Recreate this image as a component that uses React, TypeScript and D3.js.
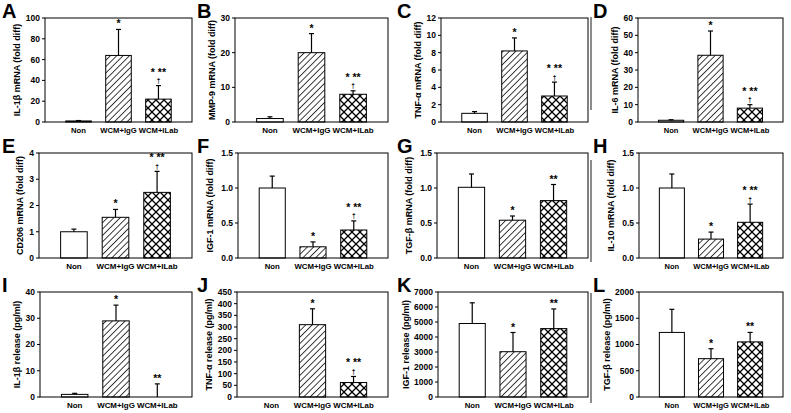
import React from 'react';
import * as d3 from 'd3';

const categories = ['Non', 'WCM+IgG', 'WCM+ILab'];
const letters = ['A', 'B', 'C', 'D', 'E', 'F', 'G', 'H', 'I', 'J', 'K', 'L'];
const yTitles = [
  'IL-1β mRNA (fold diff)', 'MMP-9 mRNA (fold diff)', 'TNF-α mRNA (fold diff)', 'IL-6 mRNA (fold diff)',
  'CD206 mRNA (fold diff)', 'IGF-1 mRNA (fold diff)', 'TGF-β mRNA (fold diff)', 'IL-10 mRNA (fold diff)',
  'IL-1β release (pg/ml)', 'TNF-α release (pg/ml)', 'IGF-1 release (pg/ml)', 'TGF-β release (pg/ml)',
];
const yMax = [100, 30, 12, 60, 4, 1.5, 1.5, 1.5, 40, 450, 7000, 2000];
const yStep = [20, 10, 2, 10, 1, 0.5, 0.5, 0.5, 10, 50, 1000, 500];

// bar heights: Non, WCM+IgG, WCM+ILab
const means = [
  [1, 64, 22],
  [1, 20, 8],
  [1, 8.2, 3],
  [1, 38.5, 8],
  [1, 1.55, 2.5],
  [1, 0.16, 0.4],
  [1.01, 0.54, 0.82],
  [1, 0.27, 0.51],
  [1, 29, 0],
  [0, 310, 62],
  [4900, 3020, 4560],
  [1230, 730, 1050],
];
// upper error (SE)
const errors = [
  [0.4, 25, 13],
  [0.5, 5.5, 1],
  [0.2, 1.5, 1.6],
  [0.3, 14, 2],
  [0.1, 0.3, 0.8],
  [0.17, 0.07, 0.13],
  [0.19, 0.06, 0.23],
  [0.2, 0.1, 0.26],
  [0.4, 6, 5],
  [0, 68, 26],
  [1380, 1280, 1310],
  [440, 190, 180],
];
const starsIgG = ['*', '*', '*', '*', '*', '*', '*', '*', '*', '*', '*', '*'];
const starsILab = ['* **', '* **', '* **', '* **', '* **', '* **', '**', '* **', '**', '* **', '**', '**'];
const daggerILab = [true, true, true, true, true, true, false, true, false, true, false, false];

// layout
const plotLeft = [45, 235, 441, 638, 39, 238, 437, 639, 40, 237, 438, 639];
const colRight = [192, 388, 588, 783];
const rowTop = [18, 153, 292];
const rowBottom = [122, 258, 397];
const letterX = [2, 197, 397, 593];
const fills = ['#fff', 'url(#hatch)', 'url(#cross)'];
const FONT = '"Liberation Sans", Arial, sans-serif';

function Panel({ i }: { i: number }) {
  const col = i % 4, row = Math.floor(i / 4);
  const left = plotLeft[i], right = colRight[col];
  const top = rowTop[row], bottom = rowBottom[row];

  const x = d3.scaleBand().domain(categories).range([left, right]).paddingInner(0.36).paddingOuter(0.52);
  const y = d3.scaleLinear().domain([0, yMax[i]]).range([bottom, top]);
  const ticks = d3.range(0, yMax[i] + yStep[i] / 2, yStep[i]);
  const fmt = yStep[i] < 1 ? d3.format('.1f') : d3.format('d');
  const maxLabel = d3.max(ticks, t => fmt(t).length) || 1;
  const titleX = left - maxLabel * 4.6 - 11;
  const catFont = Math.min(8, (x.step() - 2) / 4.945);

  return (
    <g>
      <text x={letterX[col]} y={top} fontSize={20} fontWeight="bold">{letters[i]}</text>
      <text transform={`translate(${titleX},${(top + bottom) / 2}) rotate(-90)`} textAnchor="middle"
        fontSize={9} fontWeight="bold">{yTitles[i]}</text>
      {ticks.map(t => (
        <g key={t}>
          <line x1={left - 3} x2={left} y1={y(t)} y2={y(t)} stroke="#000" />
          <text x={left - 5} y={y(t)} dy="0.35em" textAnchor="end" fontSize={8.5} fontWeight="bold">{fmt(t)}</text>
        </g>
      ))}
      {categories.map((c, j) => {
        const v = means[i][j];
        const e = errors[i][j];
        const cx = x(c)! + x.bandwidth() / 2;
        const yTop = y(v + e);
        return (
          <g key={c}>
            {v > 0 && (
              <rect x={x(c)} y={y(v)} width={x.bandwidth()} height={bottom - y(v)}
                fill={fills[j]} stroke="#000" strokeWidth={1} />
            )}
            {e > 0 && (
              <g stroke="#000" strokeWidth={1.2}>
                <line x1={cx} x2={cx} y1={y(v)} y2={yTop} />
                <line x1={cx - 2.5} x2={cx + 2.5} y1={yTop} y2={yTop} />
              </g>
            )}
            <text x={cx} y={bottom + 11} textAnchor="middle" fontSize={catFont} fontWeight="bold">{c}</text>
            {j === 1 && (
              <text x={cx} y={yTop - 2} textAnchor="middle" fontSize={10.5} fontWeight="bold">{starsIgG[i]}</text>
            )}
            {j === 2 && (
              <>
                <text x={cx} y={yTop - (daggerILab[i] ? 10 : 2)} textAnchor="middle" fontSize={10.5}
                  fontWeight="bold">{starsILab[i]}</text>
                {daggerILab[i] && (
                  <text x={cx} y={yTop - 2.5} textAnchor="middle" fontSize={6.5} fontWeight="bold">†</text>
                )}
              </>
            )}
          </g>
        );
      })}
      <rect x={left} y={top} width={right - left} height={bottom - top} fill="none" stroke="#000" strokeWidth={1} />
    </g>
  );
}

export default function App() {
  return (
    <svg width={791} height={413} style={{ position: 'absolute', left: 0, top: 0, background: '#fff' }}
      fontFamily={FONT}>
      <defs>
        <pattern id="hatch" patternUnits="userSpaceOnUse" width={4.5} height={4.5} patternTransform="rotate(45)">
          <line x1={0} y1={0} x2={0} y2={4.5} stroke="#000" strokeWidth={1.5} />
        </pattern>
        <pattern id="cross" patternUnits="userSpaceOnUse" width={8} height={8}>
          <rect width={8} height={8} fill="#fff" />
          <path d="M0,0L8,8M8,0L0,8" stroke="#000" strokeWidth={1.3} />
        </pattern>
      </defs>
      <rect width={791} height={413} fill="#fff" />
      {[[17, 110], [160, 262], [293, 403]].map(([a, b]) => (
        <line key={a} x1={591} x2={591} y1={a} y2={b} stroke="#666" strokeWidth={1.5} />
      ))}
      {letters.map((_, i) => <Panel key={i} i={i} />)}
    </svg>
  );
}
